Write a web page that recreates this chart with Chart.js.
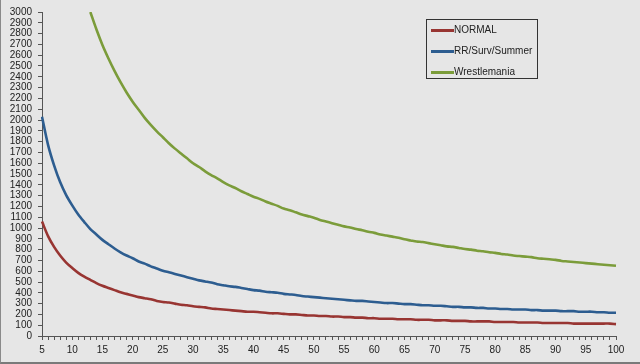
<!DOCTYPE html>
<html>
<head>
<meta charset="utf-8">
<script src="https://cdn.jsdelivr.net/npm/chart.js@4.4.0/dist/chart.umd.min.js"></script>
<style>
  html, body { margin: 0; padding: 0; background: #e6e6e6; }
  #wrap { position: relative; width: 640px; height: 364px; box-sizing: border-box; border-left: 1px solid #8a8a8a; border-bottom: 2px solid #7a7a7a; }
  #legend {
    position: absolute; left: 425px; top: 19px; width: 110px; height: 58px;
    border: 1px solid #333; font: 10px "Liberation Sans", Arial, sans-serif; color: #222;
  }
  #legend div { position: absolute; left: 4px; height: 12px; line-height: 12px; white-space: nowrap; }
  #legend span { display: inline-block; width: 23px; height: 3px; vertical-align: middle; margin-right: 0; }
</style>
</head>
<body>
<div id="wrap">
  <canvas id="chart" width="640" height="362"></canvas>
  <div id="legend"></div>
</div>
<script>
// x categories 5..100
const xLabels = [];
for (let i = 5; i <= 100; i++) xLabels.push(i);

const normal = [
  1060, 925, 825, 745, 680, 630, 585, 550, 520, 490,
  465, 445, 425, 405, 390, 375, 360, 350, 340, 325,
  315, 310, 300, 290, 285, 275, 270, 265, 255, 250,
  245, 240, 235, 230, 225, 225, 220, 215, 210, 210,
  205, 200, 200, 195, 190, 190, 185, 185, 180, 180,
  175, 175, 170, 170, 165, 165, 160, 160, 160, 155,
  155, 155, 150, 150, 150, 145, 145, 145, 140, 140,
  140, 135, 135, 135, 135, 130, 130, 130, 130, 125,
  125, 125, 125, 120, 120, 120, 120, 120, 115, 115,
  115, 115, 115, 115, 115, 110
];

const rrSurvSummer = [
  2030, 1770, 1580, 1425, 1305, 1210, 1125, 1055, 990, 940,
  890, 850, 810, 775, 745, 720, 690, 670, 645, 625,
  605, 590, 575, 560, 545, 530, 515, 505, 495, 480,
  470, 460, 455, 445, 435, 425, 420, 410, 405, 400,
  390, 385, 380, 370, 365, 360, 355, 350, 345, 340,
  335, 330, 325, 325, 320, 315, 310, 305, 305, 300,
  295, 295, 290, 285, 285, 280, 280, 275, 270, 270,
  265, 265, 260, 260, 255, 255, 250, 250, 245, 245,
  245, 240, 240, 235, 235, 235, 230, 230, 230, 225,
  225, 225, 220, 220, 215, 215
];

const wrestlemania = [
  null, null, null, null, null, null, null, null, 3000, 2840,
  2695, 2570, 2455, 2350, 2255, 2170, 2095, 2020, 1955, 1895,
  1840, 1785, 1735, 1690, 1645, 1600, 1565, 1525, 1490, 1460,
  1425, 1395, 1370, 1340, 1315, 1290, 1270, 1245, 1225, 1205,
  1180, 1165, 1145, 1125, 1110, 1095, 1075, 1060, 1045, 1030,
  1015, 1005, 990, 980, 965, 955, 940, 930, 920, 910,
  895, 885, 875, 870, 860, 850, 840, 830, 825, 815,
  805, 800, 790, 785, 775, 770, 760, 755, 745, 740,
  735, 730, 720, 715, 710, 705, 695, 690, 685, 680,
  675, 670, 665, 660, 655, 650
];

const seriesNames = ["NORMAL", "RR/Surv/Summer", "Wrestlemania"];
const seriesColors = ["#983532", "#2d5d90", "#7b9c3a"];
const seriesData = [normal, rrSurvSummer, wrestlemania];

const font = { family: "'Liberation Sans', Arial, sans-serif", size: 10 };

new Chart(document.getElementById("chart"), {
  type: "line",
  data: {
    labels: xLabels,
    datasets: seriesData.map((d, i) => ({
      label: seriesNames[i],
      data: d,
      borderColor: seriesColors[i],
      borderWidth: 2.6,
      pointRadius: 0,
      tension: 0.3,
      fill: false
    }))
  },
  options: {
    responsive: false,
    animation: false,
    layout: { padding: { top: 12, right: 25, left: 0, bottom: 0 } },
    plugins: { legend: { display: false }, tooltip: { enabled: false } },
    scales: {
      x: {
        type: "category",
        offset: false,
        afterFit: s => { s.height = 26; },
        grid: { drawOnChartArea: false, drawTicks: true, tickLength: 4, color: "#555", offset: false },
        border: { color: "#555", width: 1 },
        ticks: {
          autoSkip: false, maxRotation: 0, padding: 4, color: "#222", font: font,
          callback: function (v, i) { const n = xLabels[i]; return n % 5 === 0 ? String(n) : ""; }
        }
      },
      y: {
        min: 0, max: 3000,
        afterFit: s => { s.width = 41; },
        grid: { drawOnChartArea: false, drawTicks: true, tickLength: 4, color: "#555" },
        border: { color: "#555", width: 1 },
        ticks: { stepSize: 100, autoSkip: false, padding: 6, color: "#222", font: font, callback: v => String(v) }
      }
    }
  }
});

const legend = document.getElementById("legend");
seriesNames.forEach((name, i) => {
  const row = document.createElement("div");
  row.style.top = (4 + i * 21) + "px";
  row.innerHTML = '<span style="background:' + seriesColors[i] + '"></span>' + name;
  legend.appendChild(row);
});
</script>
</body>
</html>
